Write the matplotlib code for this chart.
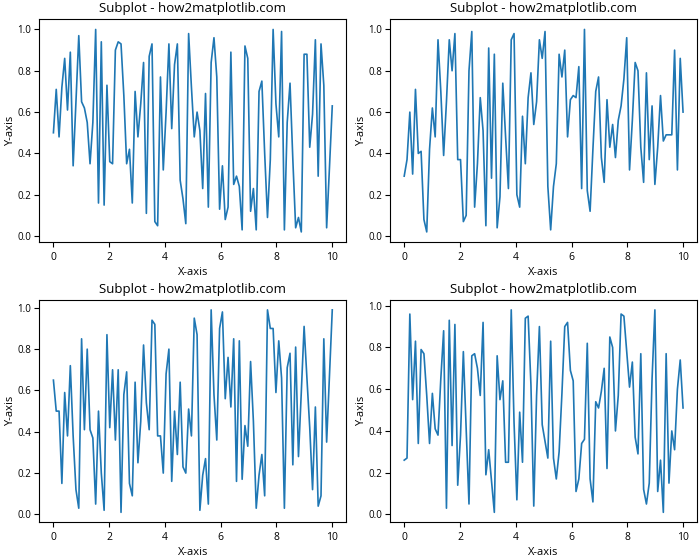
import numpy as np
import matplotlib
matplotlib.use('Agg')
import matplotlib.pyplot as plt

plt.rcParams['font.family'] = ['Open Sans', 'DejaVu Sans']
plt.rcParams['axes.titlesize'] = 9.5
plt.rcParams['axes.labelsize'] = 8
plt.rcParams['xtick.labelsize'] = 7.5
plt.rcParams['ytick.labelsize'] = 7
plt.rcParams['ytick.major.pad'] = 2.5

# 100 samples on 0..10 for every panel
x = np.linspace(0, 10, 100)

y_top_left = [
    0.50, 0.71, 0.48, 0.72, 0.86, 0.61, 0.89, 0.34, 0.65, 0.97,
    0.65, 0.62, 0.55, 0.35, 0.55, 1.00, 0.16, 0.94, 0.15, 0.73,
    0.36, 0.35, 0.90, 0.94, 0.93, 0.68, 0.35, 0.42, 0.16, 0.70,
    0.48, 0.64, 0.84, 0.11, 0.87, 0.93, 0.07, 0.05, 0.77, 0.32,
    0.60, 0.93, 0.52, 0.83, 0.93, 0.27, 0.18, 0.06, 0.98, 0.72,
    0.48, 0.60, 0.51, 0.23, 0.69, 0.14, 0.84, 0.96, 0.77, 0.13,
    0.34, 0.08, 0.14, 0.89, 0.25, 0.29, 0.24, 0.03, 0.92, 0.86,
    0.12, 0.23, 0.03, 0.70, 0.75, 0.40, 0.09, 0.37, 1.00, 0.64,
    0.48, 0.99, 0.03, 0.55, 0.74, 0.37, 0.04, 0.09, 0.02, 0.88,
    0.88, 0.43, 0.59, 0.95, 0.29, 0.93, 0.73, 0.04, 0.33, 0.63,
]

y_top_right = [
    0.29, 0.37, 0.60, 0.30, 0.71, 0.40, 0.41, 0.08, 0.02, 0.42,
    0.62, 0.48, 0.95, 0.70, 0.39, 0.65, 0.95, 0.80, 0.98, 0.37,
    0.37, 0.07, 0.10, 0.80, 0.99, 0.14, 0.35, 0.67, 0.51, 0.05,
    0.91, 0.28, 0.88, 0.04, 0.19, 0.74, 0.48, 0.23, 0.95, 0.98,
    0.20, 0.14, 0.58, 0.35, 0.67, 0.79, 0.54, 0.65, 0.95, 0.86,
    0.99, 0.24, 0.03, 0.24, 0.35, 0.88, 0.77, 0.90, 0.48, 0.66,
    0.68, 0.67, 0.82, 0.23, 1.00, 0.22, 0.12, 0.42, 0.70, 0.77,
    0.38, 0.26, 0.66, 0.43, 0.54, 0.38, 0.56, 0.63, 0.76, 0.96,
    0.32, 0.56, 0.84, 0.80, 0.43, 0.26, 0.79, 0.37, 0.63, 0.25,
    0.43, 0.68, 0.46, 0.49, 0.49, 0.49, 0.90, 0.32, 0.86, 0.60,
]

y_bottom_left = [
    0.65, 0.50, 0.50, 0.15, 0.59, 0.38, 0.72, 0.38, 0.12, 0.03,
    0.85, 0.41, 0.80, 0.41, 0.37, 0.05, 0.50, 0.20, 0.02, 0.87,
    0.42, 0.70, 0.36, 0.70, 0.01, 0.58, 0.69, 0.15, 0.09, 0.64,
    0.25, 0.45, 0.82, 0.54, 0.41, 0.94, 0.92, 0.38, 0.38, 0.20,
    0.68, 0.80, 0.16, 0.50, 0.29, 0.64, 0.23, 0.20, 0.51, 0.38,
    0.95, 0.87, 0.02, 0.19, 0.27, 0.05, 0.99, 0.58, 0.36, 0.90,
    0.98, 0.56, 0.76, 0.52, 0.85, 0.16, 0.84, 0.17, 0.43, 0.33,
    0.74, 0.45, 0.03, 0.19, 0.29, 0.09, 0.99, 0.90, 0.90, 0.59,
    0.84, 0.66, 0.03, 0.71, 0.78, 0.24, 0.81, 0.28, 0.59, 0.91,
    0.66, 0.42, 0.12, 0.52, 0.04, 0.09, 0.85, 0.35, 0.67, 0.99,
]

y_bottom_right = [
    0.26, 0.27, 0.96, 0.55, 0.83, 0.34, 0.79, 0.77, 0.57, 0.34,
    0.58, 0.41, 0.38, 0.65, 0.88, 0.03, 0.93, 0.33, 0.91, 0.14,
    0.38, 0.78, 0.41, 0.05, 0.76, 0.77, 0.70, 0.57, 0.92, 0.19,
    0.31, 0.16, 0.01, 0.76, 0.55, 0.64, 0.25, 0.25, 0.98, 0.44,
    0.07, 0.49, 0.25, 0.94, 0.95, 0.62, 0.04, 0.57, 0.90, 0.43,
    0.35, 0.27, 0.83, 0.27, 0.17, 0.30, 0.58, 0.90, 0.92, 0.69,
    0.64, 0.11, 0.17, 0.34, 0.36, 0.82, 0.17, 0.06, 0.54, 0.51,
    0.59, 0.70, 0.22, 0.85, 0.80, 0.40, 0.57, 0.96, 0.95, 0.78,
    0.61, 0.73, 0.37, 0.29, 0.77, 0.12, 0.05, 0.15, 0.65, 0.98,
    0.11, 0.26, 0.01, 0.77, 0.15, 0.40, 0.31, 0.60, 0.74, 0.51,
]

series = [y_top_left, y_top_right, y_bottom_left, y_bottom_right]

fig, axes = plt.subplots(2, 2, figsize=(7.0, 5.6), dpi=100)
for ax, y in zip(axes.flat, series):
    ax.plot(x, y, color='#1f77b4', linewidth=1.2)
    ax.set_title('Subplot - how2matplotlib.com', pad=5)
    ax.set_xlabel('X-axis', labelpad=3)
    ax.set_ylabel('Y-axis', labelpad=1)

# frame edges
fig.subplots_adjust(left=0.0564, right=0.9957, top=0.9655, bottom=0.067,
                    wspace=0.1436, hspace=0.259)
fig.savefig('out.png', dpi=100)
